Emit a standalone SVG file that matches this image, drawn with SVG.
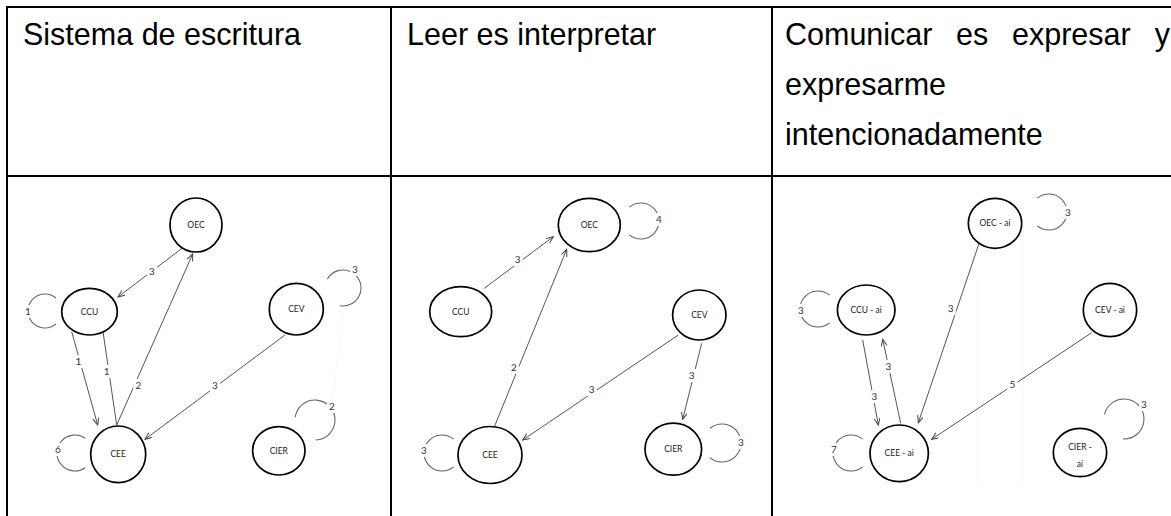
<svg xmlns="http://www.w3.org/2000/svg" width="1171" height="516" viewBox="0 0 1171 516">
<style>
.hdr{font-family:"Liberation Sans",Arial,sans-serif;font-size:30.5px;fill:#000}
.grid{stroke:#000;stroke-width:2;fill:none}
.node ellipse{fill:#fff;stroke:#000;stroke-width:1.7}
.node text{font-family:Lato,"Liberation Sans",sans-serif;font-size:8.5px;fill:#222;text-anchor:middle}
.edge{stroke:#555;stroke-width:1;fill:none}
.arr{marker-end:url(#ah)}
.loop{stroke:#666;stroke-width:1.1;fill:none}
.lbl rect{fill:#fff}
.lbl text{font-family:Lato,"Liberation Sans",sans-serif;font-size:10px;fill:#333;text-anchor:middle}
.faint{stroke:#ececec;stroke-width:1;stroke-dasharray:1 2;fill:none}
</style>
<defs>
<marker id="ah" markerWidth="8" markerHeight="8" refX="7" refY="3" orient="auto" markerUnits="userSpaceOnUse">
<path d="M0,0 L7,3 L0,6" fill="none" stroke="#444" stroke-width="1"/>
</marker>
</defs>
<rect width="1171" height="516" fill="#fff"/>
<g id="table">
<line class="grid" x1="6" y1="7" x2="1171" y2="7"/>
<line class="grid" x1="6" y1="176" x2="1171" y2="176"/>
<line class="grid" x1="7" y1="6" x2="7" y2="516"/>
<line class="grid" x1="391" y1="6" x2="391" y2="516"/>
<line class="grid" x1="772" y1="6" x2="772" y2="516"/>
</g>
<g id="headers">
<text class="hdr" x="23" y="45">Sistema de escritura</text>
<text class="hdr" x="407" y="45">Leer es interpretar</text>
<text class="hdr" x="785" y="45">Comunicar</text>
<text class="hdr" x="956" y="45">es</text>
<text class="hdr" x="1012" y="45">expresar</text>
<text class="hdr" x="1170" y="45" text-anchor="end">y</text>
<text class="hdr" x="785" y="95">expresarme</text>
<text class="hdr" x="785" y="145">intencionadamente</text>
</g>
<g id="connectors">
<line class="faint" x1="343" y1="313" x2="333" y2="397"/>
<line class="faint" x1="976.7" y1="280" x2="976.7" y2="483"/>
<line class="faint" x1="1023.3" y1="227" x2="1023.3" y2="483"/>
<!-- panel 1 -->
<line class="edge arr" x1="185" y1="246" x2="118" y2="297"/>
<line class="edge arr" x1="71.7" y1="331.7" x2="97.7" y2="425"/>
<line class="edge arr" x1="116.7" y1="425" x2="101.7" y2="323"/>
<line class="edge arr" x1="116.7" y1="425" x2="192.7" y2="254"/>
<line class="edge arr" x1="285" y1="335" x2="145" y2="439.3"/>
<path class="loop" d="M55.9,298 A17,17 0 1 0 55.9,324"/>
<path class="loop" d="M85.3,438.3 A18,18 0 1 0 85.3,467.7"/>
<path class="loop" d="M327.4,279 A18,18 0 1 1 339.9,305.7"/>
<path class="loop" d="M295.2,417.2 A20,20 0 1 1 315.7,440"/>
<!-- panel 2 -->
<line class="edge arr" x1="484.3" y1="288.3" x2="553.3" y2="236.7"/>
<line class="edge arr" x1="491.7" y1="433.3" x2="566.7" y2="249.3"/>
<line class="edge arr" x1="678.3" y1="335" x2="522.7" y2="440"/>
<line class="edge arr" x1="701.7" y1="343.3" x2="682.7" y2="419.3"/>
<path class="loop" d="M629.4,207.2 A18,18 0 1 1 629.4,234.8"/>
<path class="loop" d="M453.6,439.2 A18,18 0 1 0 453.6,466.8"/>
<path class="loop" d="M709.8,428.4 A19,19 0 1 1 709.8,457.6"/>
<!-- panel 3 -->
<line class="edge arr" x1="979.3" y1="242.7" x2="918.3" y2="422.7"/>
<line class="edge arr" x1="862.7" y1="340" x2="878.3" y2="425"/>
<line class="edge arr" x1="900.7" y1="423.3" x2="882.7" y2="339.3"/>
<line class="edge arr" x1="1091.7" y1="332.7" x2="931.7" y2="439.3"/>
<path class="loop" d="M1037.4,198.2 A18,18 0 1 1 1037.4,225.8"/>
<path class="loop" d="M829.6,295.2 A18,18 0 1 0 829.6,322.8"/>
<path class="loop" d="M862.6,439.2 A18,18 0 1 0 862.6,466.8"/>
<path class="loop" d="M1104.5,414.5 A20,20 0 1 1 1123,439"/>
<!-- labels -->
<g class="lbl">
<rect x="147" y="265" width="10" height="13"/><text x="152" y="275">3</text>
<rect x="73.3" y="355" width="10" height="13"/><text x="78.3" y="365">1</text>
<rect x="101.7" y="365" width="10" height="13"/><text x="106.7" y="375">1</text>
<rect x="133.3" y="379" width="10" height="13"/><text x="138.3" y="389">2</text>
<rect x="210" y="379" width="10" height="13"/><text x="215" y="389">3</text>
<rect x="23" y="305" width="10" height="13"/><text x="28" y="315">1</text>
<rect x="53" y="443" width="10" height="13"/><text x="58" y="453">6</text>
<rect x="350" y="263" width="10" height="13"/><text x="355" y="273">3</text>
<rect x="327" y="400" width="10" height="13"/><text x="332" y="410">2</text>

<rect x="512.7" y="253" width="10" height="13"/><text x="517.7" y="263">3</text>
<rect x="509" y="361" width="10" height="13"/><text x="514" y="371">2</text>
<rect x="586.7" y="383" width="10" height="13"/><text x="591.7" y="393">3</text>
<rect x="686.7" y="369" width="10" height="13"/><text x="691.7" y="379">3</text>
<rect x="654" y="213" width="10" height="13"/><text x="659" y="223">4</text>
<rect x="419" y="444" width="10" height="13"/><text x="424" y="454">3</text>
<rect x="736" y="436" width="10" height="13"/><text x="741" y="446">3</text>

<rect x="945.7" y="302" width="10" height="13"/><text x="950.7" y="312">3</text>
<rect x="869.3" y="390" width="10" height="13"/><text x="874.3" y="400">3</text>
<rect x="883.3" y="360" width="10" height="13"/><text x="888.3" y="370">3</text>
<rect x="1007.3" y="378" width="10" height="13"/><text x="1012.3" y="388">5</text>
<rect x="1063" y="206" width="10" height="13"/><text x="1068" y="216">3</text>
<rect x="796" y="304" width="10" height="13"/><text x="801" y="314">3</text>
<rect x="829" y="443" width="10" height="13"/><text x="834" y="453">7</text>
<rect x="1139" y="398" width="10" height="13"/><text x="1144" y="408">3</text>
</g>
</g>
<g id="p1-OEC" class="node"><ellipse cx="196" cy="225" rx="26" ry="27"/><text x="196" y="228">OEC</text></g>
<g id="p1-CCU" class="node"><ellipse cx="89.5" cy="311.7" rx="27.8" ry="23.3"/><text x="89.5" y="314.7">CCU</text></g>
<g id="p1-CEE" class="node"><ellipse cx="118.2" cy="454.3" rx="27.5" ry="28.3"/><text x="118.2" y="457.3">CEE</text></g>
<g id="p1-CEV" class="node"><ellipse cx="296.3" cy="309.2" rx="27" ry="25.8"/><text x="296.3" y="312.2">CEV</text></g>
<g id="p1-CIER" class="node"><ellipse cx="278.8" cy="450.8" rx="26.2" ry="24.2"/><text x="278.8" y="453.8">CIER</text></g>

<g id="p2-OEC" class="node"><ellipse cx="589.3" cy="225" rx="31" ry="26.7"/><text x="589.3" y="228">OEC</text></g>
<g id="p2-CCU" class="node"><ellipse cx="460.7" cy="311.7" rx="31" ry="25"/><text x="460.7" y="314.7">CCU</text></g>
<g id="p2-CEE" class="node"><ellipse cx="490" cy="455" rx="32" ry="28.5"/><text x="490" y="458">CEE</text></g>
<g id="p2-CEV" class="node"><ellipse cx="699.3" cy="315" rx="26.7" ry="25"/><text x="699.3" y="318">CEV</text></g>
<g id="p2-CIER" class="node"><ellipse cx="673.3" cy="449.2" rx="28.3" ry="26"/><text x="673.3" y="452.2">CIER</text></g>

<g id="p3-OEC" class="node"><ellipse cx="995" cy="223.3" rx="26.7" ry="25"/><text x="995" y="226.3">OEC - ai</text></g>
<g id="p3-CCU" class="node"><ellipse cx="866.2" cy="310" rx="28.8" ry="25"/><text x="866.2" y="313">CCU - ai</text></g>
<g id="p3-CEE" class="node"><ellipse cx="899.2" cy="453.3" rx="29.2" ry="28.3"/><text x="899.2" y="456.3">CEE - ai</text></g>
<g id="p3-CEV" class="node"><ellipse cx="1110" cy="310" rx="26.7" ry="26.7"/><text x="1110" y="313">CEV - ai</text></g>
<g id="p3-CIER" class="node"><ellipse cx="1080" cy="452.5" rx="26.7" ry="24.2"/><text x="1080" y="450">CIER -</text><text x="1080" y="467">ai</text></g>
</svg>
